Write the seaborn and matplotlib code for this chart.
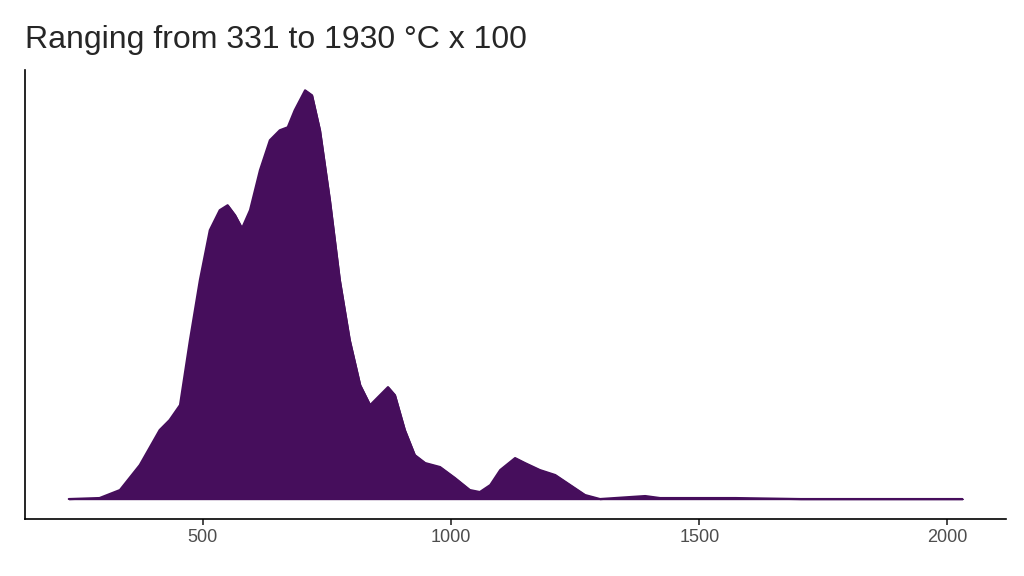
import numpy as np
import pandas as pd
import matplotlib
matplotlib.use("Agg")
import matplotlib.pyplot as plt
import seaborn as sns

# density curve (x in °C x 100, y in arbitrary density units)
temp = [230, 292, 333, 373, 413, 433, 454, 474, 494, 514, 534, 550, 565, 579, 595,
        615, 635, 655, 671, 685, 706, 720, 736, 756, 776, 796, 817, 837, 857, 873,
        887, 907, 927, 948, 978, 1008, 1038, 1058, 1079, 1099, 1129, 1149, 1179,
        1210, 1240, 1270, 1300, 1391, 1421, 1573, 1704, 1906, 2030]
dens = [0, 1, 9, 34, 69, 79, 94, 159, 219, 269, 289, 294, 284, 271, 289,
        329, 359, 369, 372, 389, 409, 404, 369, 299, 219, 159, 114, 94, 104, 112,
        104, 69, 44, 36, 32, 21, 9, 7, 14, 29, 41, 36, 29, 24,
        14, 4, 0, 3, 1, 1, 0, 0, 0]
xticks = [500, 1000, 1500, 2000]

df = pd.DataFrame({"temp": temp, "density": np.array(dens) * 1e-5})

sns.set_theme(style="ticks")
plt.rcParams['font.family'] = ['Liberation Sans', 'DejaVu Sans']

fig = plt.figure(figsize=(10.24, 5.76), dpi=100)
ax = fig.add_axes([0.024, 0.099, 0.958, 0.779])
col = "#460E5C"
sns.lineplot(data=df, x="temp", y="density", color=col, linewidth=1.5, ax=ax)
ax.fill_between(df["temp"], df["density"], color=col)

ax.set_xlim(141, 2117)
ax.set_ylim(-20e-5, 429e-5)
ax.set_xticks(xticks)
ax.set_xticklabels([str(t) for t in xticks], fontsize=13, color="#4D4D4D")
ax.set_yticks([])
ax.set_xlabel("")
ax.set_ylabel("")
for s in ["top", "right"]:
    ax.spines[s].set_visible(False)
for s in ["left", "bottom"]:
    ax.spines[s].set_color("black")
    ax.spines[s].set_linewidth(1.2)
ax.tick_params(axis="x", length=4, color="#333333")

fig.text(0.024, 0.93, "Ranging from 331 to 1930 °C x 100", fontsize=23, ha="left", va="center")

plt.savefig("out.png", dpi=100)
